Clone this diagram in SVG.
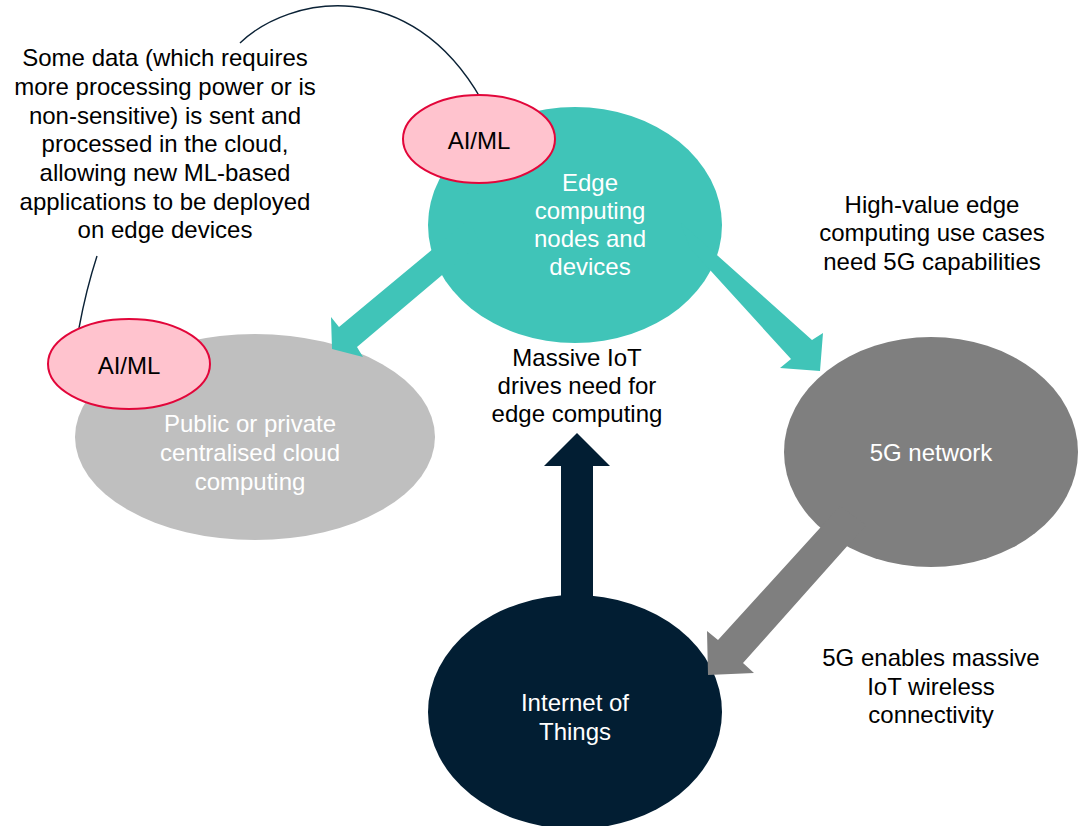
<svg xmlns="http://www.w3.org/2000/svg" width="1083" height="826" viewBox="0 0 1083 826">
<style>
text{font-family:"Liberation Sans",Arial,sans-serif;font-size:24px;text-anchor:middle;dominant-baseline:central}
.w{fill:#ffffff}
.k{fill:#000000}
.ai{fill:#FFC3CE;stroke:#E2063A;stroke-width:2}
.ln{fill:none;stroke:#0B2236;stroke-width:1.4}
</style>
<rect width="1083" height="826" fill="#ffffff"/>
<g id="cloud"><ellipse cx="255" cy="437" rx="180" ry="103" fill="#BFBFBF"/></g>
<g id="edge"><ellipse cx="575" cy="225" rx="147" ry="118" fill="#40C4B8"/></g>
<g id="fiveg"><ellipse cx="931" cy="452" rx="147" ry="115" fill="#7F7F7F"/></g>
<g id="iot"><ellipse cx="575" cy="712" rx="147" ry="117" fill="#021E33"/></g>
<g id="connectors">
<polygon points="469,219 339,327 331,317 332,349 363,357 357,347 480,243" fill="#40C4B8"/>
<polygon points="680,222 812,340 823,333 820,371 780,368 791,359 690,248" fill="#40C4B8"/>
<polygon points="561,620 561,466 544,466 577,433 610,466 593,466 593,620" fill="#021E33"/>
<polygon points="840,506 718,640 707,631 708,675 754,673 743,663 866,525" fill="#7F7F7F"/>
<path class="ln" d="M240,43 C290,-5 410,-25 481,99"/>
<path class="ln" d="M97,256 Q86,290 79,328"/>
</g>
<g id="aiml-top"><ellipse class="ai" cx="479" cy="139" rx="76" ry="44"/><text class="k" x="479" y="140">AI/ML</text></g>
<g id="aiml-left"><ellipse class="ai" cx="129" cy="364" rx="81" ry="45"/><text class="k" x="129" y="365">AI/ML</text></g>
<g id="edge-label">
<text class="w" x="590" y="182">Edge</text>
<text class="w" x="590" y="210">computing</text>
<text class="w" x="590" y="238">nodes and</text>
<text class="w" x="590" y="266">devices</text>
</g>
<g id="cloud-label">
<text class="w" x="250" y="423">Public or private</text>
<text class="w" x="250" y="452">centralised cloud</text>
<text class="w" x="250" y="481">computing</text>
</g>
<g id="fiveg-label"><text class="w" x="931" y="452">5G network</text></g>
<g id="iot-label">
<text class="w" x="575" y="702">Internet of</text>
<text class="w" x="575" y="731">Things</text>
</g>
<g id="note-cloud">
<text class="k" x="165" y="57">Some data (which requires</text>
<text class="k" x="165" y="86">more processing power or is</text>
<text class="k" x="165" y="115">non-sensitive) is sent and</text>
<text class="k" x="165" y="143">processed in the cloud,</text>
<text class="k" x="165" y="172">allowing new ML-based</text>
<text class="k" x="165" y="201">applications to be deployed</text>
<text class="k" x="165" y="229">on edge devices</text>
</g>
<g id="note-5g">
<text class="k" x="932" y="204">High-value edge</text>
<text class="k" x="932" y="232">computing use cases</text>
<text class="k" x="932" y="261">need 5G capabilities</text>
</g>
<g id="note-iot">
<text class="k" x="577" y="357">Massive IoT</text>
<text class="k" x="577" y="385">drives need for</text>
<text class="k" x="577" y="413">edge computing</text>
</g>
<g id="note-wireless">
<text class="k" x="931" y="657">5G enables massive</text>
<text class="k" x="931" y="686">IoT wireless</text>
<text class="k" x="931" y="714">connectivity</text>
</g>
</svg>
